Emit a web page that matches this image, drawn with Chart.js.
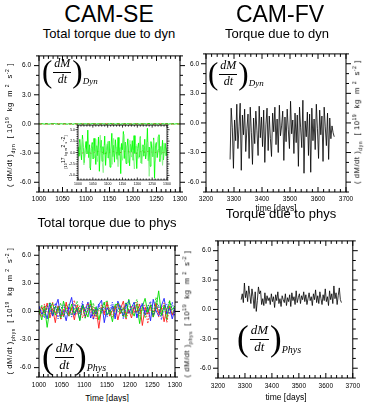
<!DOCTYPE html>
<html lang="en">
<head>
<meta charset="UTF-8">
<title>Torque CAM-SE / CAM-FV</title>
<script src="https://cdn.jsdelivr.net/npm/chart.js"></script>
<style>
  body { margin: 0; background: #fff; }
  #fig { position: relative; width: 365px; height: 402px; overflow: hidden; font-family: "Liberation Sans", Arial, sans-serif; color: #000; }
  #fig canvas { position: absolute; }
  .txt { position: absolute; transform: translate(-50%, -50%); white-space: nowrap; line-height: 1; z-index: 5; }
  .big { font-size: 23px; }
  .ttl { font-size: 13px; }
  .axt { font-size: 8.5px; }
  .ytl { position: absolute; transform: translate(-50%, -50%) rotate(-90deg); white-space: pre; font-size: 7.5px; letter-spacing: 0.6px; line-height: 1; z-index: 5; }
  .ytl sub, .ytl sup { font-size: 5px; line-height: 0; }
  .frm { position: absolute; display: flex; align-items: center; font-family: "Liberation Serif", serif; z-index: 5; }
  .par { font-size: 31px; line-height: 1; }
  .frac { display: inline-flex; flex-direction: column; align-items: center; font-style: italic; font-size: 12px; margin: 0 1px; line-height: 1.1; }
  .frac span:first-child { border-bottom: 0.8px solid #000; padding: 0 1px 1px; }
  .fsub { font-style: italic; font-size: 9px; align-self: flex-end; margin-bottom: 1px; }
  .frm.big2 .par { font-size: 35px; }
  .frm.big2 .frac { font-size: 13px; }
  .frm.big2 .fsub { font-size: 10px; }
</style>
</head>
<body>
<div id="fig">
  <div class="txt big" style="left:109px;top:14px">CAM-SE</div>
  <div class="txt big" style="left:280px;top:14px">CAM-FV</div>
  <div class="txt ttl" style="left:109px;top:33px">Total torque due to dyn</div>
  <div class="txt ttl" style="left:277px;top:33px">Torque due to dyn</div>
  <div class="txt ttl" style="left:107px;top:222px">Total torque due to phys</div>
  <div class="txt ttl" style="left:281px;top:213px">Torque due to phys</div>
  <div class="txt axt" style="left:276px;top:208px">time [days]</div>
  <div class="txt axt" style="left:107px;top:398px">Time [days]</div>
  <div class="txt axt" style="left:286px;top:397px">time [days]</div>

  <div class="ytl" style="left:10px;top:125px">( dM/dt )<sub>dyn</sub>  [ 10<sup>19</sup>  kg  m <sup>2</sup>  s<sup>-2</sup> ]</div>
  <div class="ytl" style="left:357px;top:122px">( dM/dt )<sub>dyn</sub>  [ 10<sup>19</sup>  kg  m <sup>2</sup>  s<sup>-2</sup> ]</div>
  <div class="ytl" style="left:10px;top:311px">( dM/dt )<sub>phys</sub>  [ 10<sup>19</sup>  kg  m <sup>2</sup>  s<sup>-2</sup> ]</div>
  <div class="ytl" style="left:187px;top:314px">( dM/dt )<sub>phys</sub>  [ 10<sup>19</sup>  kg  m <sup>2</sup>  s<sup>-2</sup> ]</div>
  <div class="ytl" style="left:66px;top:152px;font-size:3.5px;letter-spacing:0.2px">[10<sup>17</sup> kg m<sup>2</sup> s<sup>-2</sup>]</div>

  <div class="frm" style="left:42px;top:56px"><span class="par">(</span><span class="frac"><span>dM</span><span>dt</span></span><span class="par">)</span><span class="fsub">Dyn</span></div>
  <div class="frm" style="left:208px;top:58px"><span class="par">(</span><span class="frac"><span>dM</span><span>dt</span></span><span class="par">)</span><span class="fsub">Dyn</span></div>
  <div class="frm big2" style="left:42px;top:339px"><span class="par">(</span><span class="frac"><span>dM</span><span>dt</span></span><span class="par">)</span><span class="fsub">Phys</span></div>
  <div class="frm big2" style="left:237px;top:321px"><span class="par">(</span><span class="frac"><span>dM</span><span>dt</span></span><span class="par">)</span><span class="fsub">Phys</span></div>
</div>

<script>
  // ---- data ----
  // CAM-SE dyn, inset in 10^17 units, day 1000 to 1300
  const seDynDaysA = range(1000, 3, 101);
  const seDynGreenA = [
    1.2, -0.8, 2.9, 0.4, -1.6, 3.8, 1.1, -2.2, 0.6, 2.4,
    -0.3, 4.9, -1.1, 1.7, -3.8, 0.9, 2.2, -1.4, 3.1, 0.2,
    -2.6, 1.5, -0.7, 3.4, -4.1, 0.8, 2.7, -1.9, 1.3, -0.4,
    3.6, -2.8, 0.5, 1.9, -1.2, 2.5, -3.2, 0.7, 4.2, -0.9,
    1.6, -2.1, 2.8, 0.3, -1.5, 3.3, -0.6, 1.1, -4.6, 2.0,
    0.6, 4.6, -1.3, 2.3, -2.4, 1.0, 3.0, -0.5, -2.9, 1.8,
    0.1, 2.6, -1.7, 3.7, -0.2, 1.4, -3.5, 0.9, 2.1, -1.0,
    3.5, -2.3, 0.4, 1.7, -0.8, 2.9, -1.4, 0.2, 5.3, -1.8,
    1.2, -3.0, 2.4, 0.7, -0.9, 3.2, -5.6, 1.5, 2.2, -1.1,
    0.6, 3.9, -2.0, 1.3, -0.4, 2.7, -1.6, 0.8, 2.0, -0.7, 1.1
  ];
  const seDynDaysB = range(1000, 5, 61);
  const seDynGreenB = [
    -1.8, 2.2, -0.6, 3.0, -2.7, 1.0, -0.3, 2.6, -3.4, 0.9,
    1.8, -1.2, 2.9, -2.0, 0.5, 3.8, -0.9, -4.4, 1.6, 0.2,
    2.4, -1.5, 0.8, -2.6, 3.1, -0.4, 1.2, -3.1, 2.0, 0.3,
    -1.7, 4.0, -0.8, 1.5, -2.2, 2.7, -1.0, 0.6, -3.6, 1.9,
    0.4, -1.3, 3.3, -2.5, 0.9, 1.7, -0.6, 2.3, -5.2, 1.0,
    -0.9, 2.8, -1.9, 0.7, 3.5, -1.4, 1.4, -2.8, 2.1, -0.2, 0.8
  ];
  const seDynDaysR = range(1000, 15, 21);
  const seDynRed = [-0.3, -0.1, 0.2, -0.2, 0.1, 0.3, -0.2, 0.0, 0.2, -0.1, 0.1, 0.3, 0.0, -0.2, 0.2, 0.1, 0.3, -0.1, 0.2, 0.0, 0.1];

  // CAM-SE phys, 10^19 units
  const sePhysDays = range(1000, 6, 51);
  const sePhysGreen = [
    0.2, -0.9, 0.6, -1.7, 0.3, 0.9, -0.4, 0.5, -0.8, 1.1,
    0.0, -0.5, 0.8, -0.2, 0.4, -1.0, 0.7, 0.1, -0.6, 1.2,
    -0.3, 0.5, -0.9, 0.3, 1.0, -0.4, 0.2, -1.1, 0.6, 0.9,
    -0.2, 0.4, -0.7, 1.3, 0.1, -0.5, 0.8, -1.3, 0.5, 1.4,
    -0.1, 0.7, -0.6, 0.3, 2.2, -0.4, 0.6, -0.9, 1.1, 0.2, 0.6
  ];
  const sePhysRed = [
    -0.4, 0.5, -0.2, 0.9, -0.7, 0.3, -1.2, 0.6, 0.1, -0.5,
    1.0, -0.3, 0.4, -0.9, 0.7, -0.1, 0.5, -0.6, 0.2, 0.8,
    -0.8, 0.3, -1.8, 0.4, -0.2, 0.9, -0.5, 0.1, 0.6, -0.9,
    0.3, 1.1, -0.4, 0.2, -0.7, 0.5, -0.1, 0.8, -1.5, 0.4,
    -0.3, 0.7, -0.6, 0.9, -0.2, 0.5, -1.1, 0.3, 0.6, -0.4, 0.2
  ];
  const sePhysBlue = [
    0.6, -0.3, 0.2, -0.8, 0.9, -0.5, 0.4, 1.3, -0.6, 0.1,
    -1.0, 0.5, 1.5, -0.4, 0.3, -0.9, 0.8, 0.0, 1.0, -0.7,
    0.2, -0.3, 0.7, 1.2, -1.2, 0.4, -0.1, 0.6, -0.8, 1.1,
    0.3, -0.5, 0.9, -0.2, 0.4, 1.0, -0.7, 0.2, 0.8, -0.4,
    0.5, -1.0, 1.3, 0.1, -0.5, 0.6, 1.4, -0.3, 0.4, -0.8, 0.3
  ];
  const sePhysRedDot = [
    0.3, -0.6, 0.8, 0.0, -0.4, 1.0, -0.2, 0.5, -0.9, 0.3,
    0.7, -0.5, 0.2, 1.2, -0.3, 0.6, -0.7, 0.4, 0.9, -0.1,
    0.5, -0.8, 0.1, 0.7, -0.4, 1.1, 0.0, -0.6, 0.4, 0.8,
    -0.3, 0.5, -0.9, 0.2, 0.6, -0.2, 1.0, -0.5, 0.3, 0.7,
    -1.3, 0.4, -0.1, 0.8, -0.6, 0.2, 0.9, -1.2, 0.5, -0.3, 0.4
  ];
  const sePhysGreenDot = [
    -0.2, 0.7, -0.5, 0.4, 1.0, -0.3, 0.6, -0.1, 0.9, -0.6,
    0.3, 0.8, -0.4, 0.2, 1.1, -0.2, 0.5, -0.8, 0.6, 0.1,
    0.9, -0.5, 0.4, -0.2, 0.7, 1.2, -0.4, 0.3, 0.8, -0.1,
    0.5, -0.6, 1.0, 0.2, -0.3, 0.7, 1.3, -0.2, 0.4, -0.7,
    0.6, 0.9, -0.3, 1.5, 0.2, -0.5, 0.7, 0.1, 1.2, -0.2, 0.5
  ];
  const sePhysBlueDot = [
    0.4, 0.0, -0.7, 0.6, 0.2, -0.4, 0.9, -0.8, 0.3, 0.7,
    -0.2, 0.5, -0.6, 0.8, 0.1, -0.3, 1.1, -0.5, 0.2, 0.6,
    -0.9, 0.4, 0.8, -0.1, 0.5, -0.6, 0.3, 1.0, -0.4, 0.2,
    0.7, -0.8, 0.4, 1.2, -0.2, 0.6, -0.5, 0.3, 0.9, -0.1,
    0.5, 1.1, -0.4, 0.2, 0.7, -0.9, 0.4, 0.8, -0.3, 1.0, -0.6
  ];

  // CAM-FV, 10^19 units
  const fvDays = range(3286, 4, 94);
  const fvDyn = [
    -3.7, 1.5, -0.5, -4.6, 0.3, -1.8, 1.9, -2.6, -0.4, 2.0,
    -4.8, 0.8, -1.2, 1.4, -2.9, -0.6, 0.9, -3.6, 1.6, -1.0,
    -4.2, 0.5, -2.1, 1.2, -0.8, -3.3, 1.7, -1.5, 0.6, -2.4,
    1.3, -4.0, -0.2, 1.5, -2.8, 0.7, -1.6, -3.4, 1.0, -0.9,
    1.6, -2.2, 0.4, -3.0, 1.8, -1.3, -0.3, 1.2, -3.8, 0.6,
    -1.9, 1.4, -0.7, -2.6, 2.2, -1.1, 0.3, -3.1, 1.0, -2.0,
    0.8, -4.4, 1.6, -0.5, -2.5, 2.3, -5.1, 0.2, -1.4, 1.1,
    -3.3, 0.9, -5.0, 1.5, -1.8, 0.4, -2.7, 1.9, -0.6, -3.6,
    1.3, -1.2, 0.7, -3.9, 1.6, -0.4, -2.3, 1.0, -3.7, 0.5,
    -1.6, -0.3, -1.0, -1.4
  ];
  const fvPhys = [
    1.0, 1.6, 0.7, 2.7, 1.2, 1.9, 0.8, 2.4, 1.5, 0.6,
    2.1, 1.3, 0.1, 1.8, -0.2, 0.9, 2.3, 1.6, 1.9, 0.5,
    1.1, 0.4, 1.7, 0.6, 1.4, 0.9, 1.2, 0.5, 1.6, 0.8,
    1.3, 0.2, 1.5, 0.9, 1.8, 0.6, 1.1, 0.3, 1.4, 1.0,
    0.7, 1.6, 0.4, 1.2, 0.8, 1.5, 0.3, 1.7, 0.9, 1.3,
    0.5, 1.9, 0.7, 1.2, 1.6, 0.6, 1.4, 1.0, 1.8, 0.8,
    1.5, 0.5, 1.1, 1.7, 0.9, 1.3, 0.4, 1.6, 1.0, 2.0,
    0.7, 1.4, 0.6, 1.8, 1.1, 0.5, 1.5, 0.9, 2.1, 0.8,
    1.3, 0.4, 1.9, 1.0, 1.6, 0.6, 2.4, 1.1, 1.7, 0.5,
    1.4, 2.2, 1.0, 0.7
  ];

  // ticks
  const yTicks = [-6, -3, 0, 3, 6];
  const seXTicks = [1000, 1050, 1100, 1150, 1200, 1250, 1300];
  const fvXTicks = [3200, 3300, 3400, 3500, 3600, 3700];
  const insetYTicks = [-5, -2.5, 0, 2.5, 5];

  function range(start, step, n) {
    const out = [];
    for (let i = 0; i < n; i++) out.push(start + step * i);
    return out;
  }
  function pts(days, vals, k) {
    return vals.map((v, i) => ({ x: days[i], y: v * (k || 1) }));
  }
  function line(days, vals, color, opts) {
    return Object.assign({
      data: pts(days, vals, opts && opts.k),
      borderColor: color, borderWidth: 0.9, pointRadius: 0, tension: 0, fill: false
    }, opts || {});
  }

  // NCL style frame: box + major/minor ticks on all sides
  const nclBox = {
    id: 'nclBox',
    afterDatasetsDraw(chart, args, o) {
      const { ctx, chartArea: a, scales: { x, y } } = chart;
      ctx.save();
      ctx.strokeStyle = '#000';
      ctx.lineWidth = o.lw;
      ctx.beginPath();
      for (let v = Math.ceil(x.min / o.xMinor) * o.xMinor; v <= x.max + 1e-9; v += o.xMinor) {
        const px = x.getPixelForValue(v);
        const len = Math.abs(v / o.xMajor - Math.round(v / o.xMajor)) < 1e-6 ? o.xl : o.xs;
        ctx.moveTo(px, a.bottom); ctx.lineTo(px, a.bottom - len);
        ctx.moveTo(px, a.top); ctx.lineTo(px, a.top + len);
      }
      for (let v = Math.ceil(y.min / o.yMinor) * o.yMinor; v <= y.max + 1e-9; v += o.yMinor) {
        const py = y.getPixelForValue(v);
        const len = Math.abs(v / o.yMajor - Math.round(v / o.yMajor)) < 1e-6 ? o.yl : o.ys;
        ctx.moveTo(a.left, py); ctx.lineTo(a.left - len, py);
        ctx.moveTo(a.right, py); ctx.lineTo(a.right + len, py);
      }
      ctx.stroke();
      ctx.strokeRect(a.left, a.top, a.right - a.left, a.bottom - a.top);
      ctx.restore();
    }
  };

  function panel(box, c) {
    const cv = document.createElement('canvas');
    const w = c.yw + (box.r - box.l) + c.pr;
    const h = c.pt + (box.b - box.t) + c.xh;
    cv.width = w; cv.height = h;
    cv.style.left = (box.l - c.yw) + 'px';
    cv.style.top = (box.t - c.pt) + 'px';
    cv.style.width = w + 'px';
    cv.style.height = h + 'px';
    cv.style.zIndex = c.z || 1;
    document.getElementById('fig').appendChild(cv);
    const font = { family: 'Liberation Sans', size: c.fs };
    return new Chart(cv, {
      type: 'line',
      data: { datasets: c.datasets },
      plugins: [nclBox],
      options: {
        responsive: false,
        animation: false,
        layout: { padding: { top: c.pt, right: c.pr, left: 0, bottom: 0 } },
        plugins: {
          legend: { display: false },
          tooltip: { enabled: false },
          nclBox: c.frame
        },
        scales: {
          x: {
            type: 'linear', min: c.xMin, max: c.xMax,
            afterBuildTicks: s => { s.ticks = c.xTicks.map(v => ({ value: v })); },
            afterFit: s => { s.height = c.xh; },
            grid: { display: false, drawTicks: false },
            border: { display: false },
            ticks: { color: '#000', font, padding: c.xp, maxRotation: 0, autoSkip: false, callback: v => String(v) }
          },
          y: {
            min: c.yMin, max: c.yMax,
            afterBuildTicks: s => { s.ticks = c.yTicks.map(v => ({ value: v })); },
            afterFit: s => { s.width = c.yw; },
            grid: { display: false, drawTicks: false },
            border: { display: false },
            ticks: { color: '#000', font, padding: c.yp, autoSkip: false, callback: v => v.toFixed(1) }
          }
        }
      }
    });
  }

  const mainFrame = { lw: 1, xMajor: 50, xMinor: 10, xl: 5, xs: 3, yMajor: 3, yMinor: 1, yl: 5, ys: 3 };
  const fvFrame = Object.assign({}, mainFrame, { xMajor: 100, xMinor: 20 });

  // CAM-SE dyn (10^17 -> 10^19: x 0.01)
  panel({ l: 39, t: 52, r: 180, b: 192 }, {
    yw: 30, pr: 14, pt: 8, xh: 14, fs: 6.5, xp: 3, yp: 8,
    xMin: 1000, xMax: 1300, yMin: -7, yMax: 7, xTicks: seXTicks, yTicks,
    frame: mainFrame,
    datasets: [
      line(seDynDaysA, seDynGreenA, '#00dd00', { k: 0.01, borderWidth: 1 }),
      line(seDynDaysR, seDynRed, '#ff2020', { k: 0.01, borderWidth: 1, borderDash: [3, 3] })
    ]
  });

  // inset
  panel({ l: 78, t: 125, r: 167, b: 180 }, {
    yw: 10, pr: 8, pt: 5, xh: 7, fs: 3.5, xp: 2, yp: 3, z: 2,
    xMin: 1000, xMax: 1300, yMin: -6, yMax: 6, xTicks: seXTicks, yTicks: insetYTicks,
    frame: { lw: 0.8, xMajor: 50, xMinor: 10, xl: 2.5, xs: 1.5, yMajor: 2.5, yMinor: 0.5, yl: 2.5, ys: 1.5 },
    datasets: [
      line(seDynDaysB, seDynGreenB, 'rgba(120,240,120,0.9)', { borderWidth: 0.8 }),
      line(seDynDaysA, seDynGreenA, '#00ff00', { borderWidth: 0.9 }),
      line(seDynDaysR, seDynRed, '#e02020', { borderWidth: 1, borderDash: [2, 2] })
    ]
  });

  // CAM-FV dyn
  panel({ l: 206, t: 51, r: 346, b: 192 }, {
    yw: 30, pr: 14, pt: 8, xh: 14, fs: 6.5, xp: 3, yp: 7,
    xMin: 3200, xMax: 3700, yMin: -7, yMax: 7, xTicks: fvXTicks, yTicks,
    frame: fvFrame,
    datasets: [line(fvDays, fvDyn, '#000', { borderWidth: 0.8 })]
  });

  // CAM-SE phys
  panel({ l: 39, t: 242, r: 175, b: 377 }, {
    yw: 30, pr: 14, pt: 8, xh: 14, fs: 6.5, xp: 4, yp: 8,
    xMin: 1000, xMax: 1300, yMin: -7, yMax: 7, xTicks: seXTicks, yTicks,
    frame: mainFrame,
    datasets: [
      line(sePhysDays, sePhysGreenDot, '#00cc00', { borderDash: [1.5, 1.5] }),
      line(sePhysDays, sePhysBlueDot, '#2020ff', { borderDash: [1.5, 1.5] }),
      line(sePhysDays, sePhysRedDot, '#ff2020', { borderDash: [1.5, 1.5] }),
      line(sePhysDays, sePhysGreen, '#00dd00'),
      line(sePhysDays, sePhysBlue, '#1a1aff'),
      line(sePhysDays, sePhysRed, '#ff1a1a')
    ]
  });

  // CAM-FV phys
  panel({ l: 218, t: 238, r: 355, b: 378 }, {
    yw: 30, pr: 9, pt: 8, xh: 14, fs: 6.5, xp: 4, yp: 7,
    xMin: 3200, xMax: 3700, yMin: -7, yMax: 7, xTicks: fvXTicks, yTicks,
    frame: fvFrame,
    datasets: [line(fvDays, fvPhys, '#000', { borderWidth: 0.8 })]
  });
</script>
</body>
</html>
